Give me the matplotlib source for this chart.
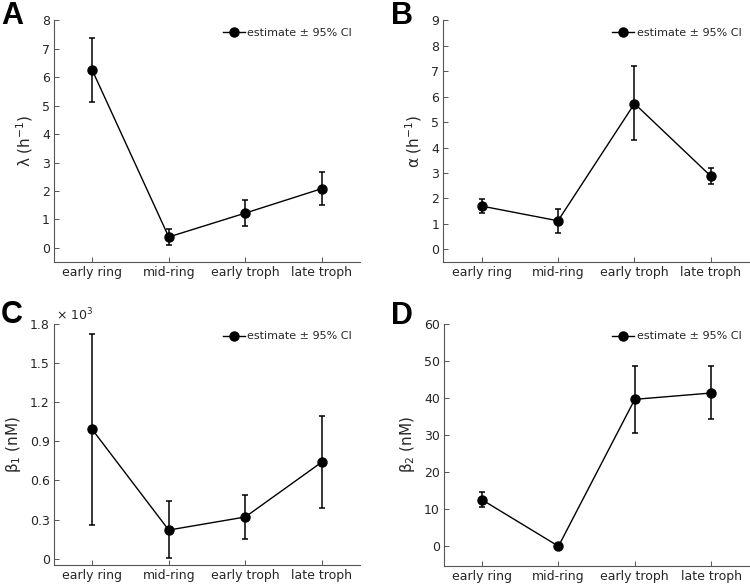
import matplotlib
matplotlib.use('Agg')
from matplotlib import pyplot as plt
from matplotlib.ticker import FuncFormatter

stages = ['early ring', 'mid-ring', 'early troph', 'late troph']

lam = [6.25, 0.38, 1.22, 2.08]
lam_lo = [5.12, 0.10, 0.78, 1.52]
lam_hi = [7.37, 0.65, 1.67, 2.65]

alpha = [1.70, 1.12, 5.73, 2.87]
alpha_lo = [1.42, 0.65, 4.28, 2.55]
alpha_hi = [1.97, 1.60, 7.20, 3.18]

beta1 = [990, 220, 320, 740]  # nM
beta1_lo = [260, 5, 150, 390]
beta1_hi = [1720, 440, 485, 1090]

beta2 = [12.5, 0.0, 39.6, 41.3]  # nM
beta2_lo = [10.5, 0.0, 30.6, 34.3]
beta2_hi = [14.7, 0.0, 48.6, 48.6]

text_col = '#262626'
plt.rcParams['font.family'] = 'DejaVu Sans'
plt.rcParams['mathtext.default'] = 'regular'

fig = plt.figure(figsize=(7.5, 5.84), dpi=100)


def panel(rect, y, lo, hi, ylim, yticks, ylabel):
    ax = fig.add_axes(rect)
    x = list(range(1, len(stages) + 1))
    err = [[v - l for v, l in zip(y, lo)], [h - v for v, h in zip(y, hi)]]
    ax.errorbar(x, y, yerr=err, fmt='none', ecolor='black',
                elinewidth=1.1, capsize=2.2, capthick=1.1)
    ax.plot(x, y, '-o', color='black', lw=1.0, ms=6.5,
            label='estimate ± 95% CI')
    ax.set_xlim(0.5, 4.5)
    ax.set_ylim(*ylim)
    ax.set_yticks(yticks)
    ax.set_xticks(x)
    ax.set_xticklabels(stages)
    ax.set_ylabel(ylabel, fontsize=11, color=text_col, labelpad=5)
    for s in ['top', 'right']:
        ax.spines[s].set_visible(False)
    for s in ['left', 'bottom']:
        ax.spines[s].set_color('#555555')
        ax.spines[s].set_linewidth(0.8)
    ax.tick_params(direction='in', length=3.5, width=0.7, color='#555555',
                   labelsize=9, labelcolor=text_col, pad=3)
    leg = ax.legend(loc='upper right', frameon=False, fontsize=8,
                    handlelength=2.0, handletextpad=0.2,
                    bbox_to_anchor=(1.0, 1.0), borderaxespad=0.3)
    for t in leg.get_texts():
        t.set_color(text_col)
    return ax


axA = panel([0.072, 0.5514, 0.408, 0.4136], lam, lam_lo, lam_hi,
            (-0.5, 8), range(0, 9), 'λ (h$^{-1}$)')
axB = panel([0.591, 0.5514, 0.408, 0.4136], alpha, alpha_lo, alpha_hi,
            (-0.5, 9), range(0, 10), 'α (h$^{-1}$)')
axC = panel([0.072, 0.032, 0.408, 0.4137], beta1, beta1_lo, beta1_hi,
            (-50, 1800), range(0, 1801, 300), 'β$_1$ (nM)')
axD = panel([0.592, 0.031, 0.407, 0.4148], beta2, beta2_lo, beta2_hi,
            (-5.3, 60), range(0, 61, 10), 'β$_2$ (nM)')

axC.yaxis.set_major_formatter(FuncFormatter(lambda v, p: ('%g' % (v / 1000))))
axC.text(0.005, 1.0, '× 10$^3$', transform=axC.transAxes,
         fontsize=9, color=text_col, ha='left', va='bottom')

for lbl, x, y in [('A', 0.031, 0.998), ('B', 0.551, 0.998),
                  ('C', 0.031, 0.487), ('D', 0.551, 0.485)]:
    fig.text(x, y, lbl, fontsize=22, fontweight='bold', ha='right', va='top',
             family='Liberation Sans')

fig.savefig('out.png', dpi=100)
